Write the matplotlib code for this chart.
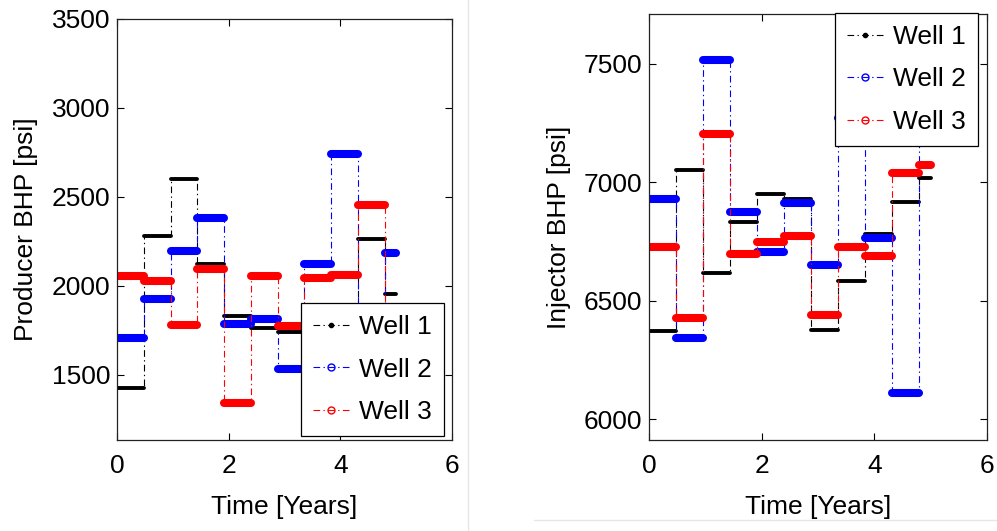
import matplotlib.pyplot as plt
from matplotlib.lines import Line2D

plt.rcParams['font.family'] = ['Liberation Sans', 'DejaVu Sans']

# control step edges [years] (175-day steps, last one shorter)
t_edges = [0, 0.479, 0.959, 1.438, 1.918, 2.397, 2.877, 3.356, 3.836, 4.315, 4.795, 5.0]

# producer BHP [psi], one value per control step
prod_w1 = [1425, 2282, 2600, 2122, 1830, 1765, 1742, 1760, 1700, 2262, 1955]
prod_w2 = [1704, 1926, 2198, 2380, 1787, 1811, 1533, 2120, 2740, 1650, 2182]
prod_w3 = [2056, 2024, 1778, 2096, 1343, 2056, 1772, 2042, 2058, 2455, 1700]

# injector BHP [psi]
inj_w1 = [6373, 7052, 6619, 6834, 6951, 6931, 6377, 6584, 6783, 6917, 7017]
inj_w2 = [6930, 6342, 7516, 6873, 6707, 6911, 6651, 7270, 6767, 6112, 7400]
inj_w3 = [6726, 6426, 7204, 6698, 6750, 6775, 6440, 6729, 6691, 7038, 7073]

labels = ['Well 1', 'Well 2', 'Well 3']
colors = ['black', 'blue', 'red']
thick = [2.8, 5.8, 5.8]
markers = ['.', 'o', 'o']
dashdot = (0, (6, 3, 1.2, 3))


def draw(ax, series):
    for vals, c, lw in zip(series, colors, thick):
        ax.step(t_edges, vals + [vals[-1]], where='post', color=c,
                lw=0.8, ls=dashdot)
        ax.hlines(vals, t_edges[:-1], t_edges[1:], colors=c, lw=lw,
                  capstyle='round')
    ax.set_xlim(0, 6)
    ax.set_xticks([0, 2, 4, 6])
    ax.tick_params(direction='in', length=5, top=True, right=True,
                   labelsize=19, width=0.8)
    ax.tick_params(axis='x', pad=10)
    ax.tick_params(axis='y', pad=5)
    for s in ax.spines.values():
        s.set_linewidth(0.9)
        s.set_color('#222222')
    ax.set_xlabel('Time [Years]', fontsize=19)
    ax.xaxis.set_label_coords(0.5, -0.13)


handles = [Line2D([], [], color=c, lw=0.8, ls=dashdot, marker=m,
                  markersize=ms, markerfacecolor=fc)
           for c, m, ms, fc in zip(colors, markers, [6, 5, 5],
                                   ['black', 'none', 'none'])]
leg_kw = dict(fontsize=19, fancybox=False, framealpha=1, edgecolor='black',
              handlelength=1.35, handletextpad=0.4, labelspacing=0.7,
              borderpad=0.45, borderaxespad=0)

fig = plt.figure(figsize=(9.97, 5.31), dpi=100)

ax1 = fig.add_axes([0.1174, 0.1714, 0.336, 0.793])
draw(ax1, [prod_w1, prod_w2, prod_w3])
ax1.set_ylim(1133, 3500)
ax1.set_yticks([1500, 2000, 2500, 3000, 3500])
ax1.set_ylabel('Producer BHP [psi]', fontsize=19)
ax1.yaxis.set_label_coords(-0.235, 0.5)
lg1 = ax1.legend(handles, labels, loc='lower right',
                 bbox_to_anchor=(444 / 997, 1 - 436 / 531),
                 bbox_transform=fig.transFigure, **leg_kw)
lg1.get_frame().set_linewidth(0.9)

ax2 = fig.add_axes([0.651, 0.1714, 0.339, 0.8023])
draw(ax2, [inj_w1, inj_w2, inj_w3])
ax2.set_ylim(5913, 7710)
ax2.set_yticks([6000, 6500, 7000, 7500])
ax2.set_ylabel('Injector BHP [psi]', fontsize=19)
ax2.yaxis.set_label_coords(-0.23, 0.5)
lg2 = ax2.legend(handles, labels, loc='upper right',
                 bbox_to_anchor=(978 / 997, 1 - 13 / 531),
                 bbox_transform=fig.transFigure, **leg_kw)
lg2.get_frame().set_linewidth(0.9)

# faint borders of the two pasted panels
fig.add_artist(Line2D([468 / 997, 468 / 997], [0, 1], color='#e6e6e6', lw=1))
fig.add_artist(Line2D([534 / 997, 1], [1 - 520 / 531, 1 - 520 / 531],
                      color='#e6e6e6', lw=1))

fig.savefig('out.png', dpi=100)
